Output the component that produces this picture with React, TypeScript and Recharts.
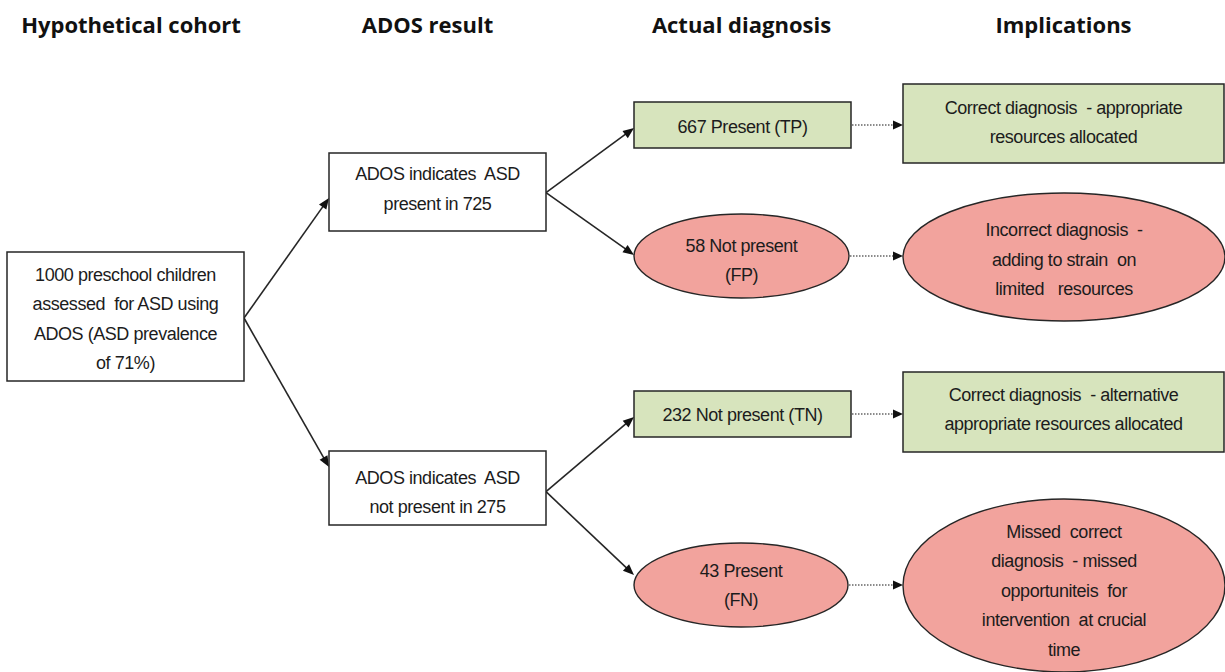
import React from 'react';
import { ScatterChart, Scatter, XAxis, YAxis, ReferenceLine } from 'recharts';

// ---------------- data ----------------
const columnHeaders = ['Hypothetical cohort', 'ADOS result', 'Actual diagnosis', 'Implications'];
const cohortSize = 1000;
const prevalencePct = 71;
const adosCounts = [725, 275]; // ADOS indicates ASD present / not present
const diagnosisCounts = [667, 58, 232, 43]; // TP, FP, TN, FN
const diagnosisCodes = ['TP', 'FP', 'TN', 'FN'];
const diagnosisStatus = ['Present', 'Not present', 'Not present', 'Present'];
const diagnosisCorrect = [true, false, true, false];
const implicationTexts = [
  ['Correct diagnosis  - appropriate', 'resources allocated'],
  ['Incorrect diagnosis  -', 'adding to strain  on', 'limited   resources'],
  ['Correct diagnosis  - alternative', 'appropriate resources allocated'],
  ['Missed  correct', 'diagnosis  - missed', 'opportuniteis  for', 'intervention  at crucial', 'time'],
];
const solidEdges = [
  ['root', 'pos'],
  ['root', 'neg'],
  ['pos', 'tp'],
  ['pos', 'fp'],
  ['neg', 'tn'],
  ['neg', 'fn'],
];
const dottedEdges = [
  ['tp', 'i1'],
  ['fp', 'i2'],
  ['tn', 'i3'],
  ['fn', 'i4'],
];

// ---------------- nodes built from data ----------------
type Node = { id: string; col: number; lines: string[]; kind: 'plain' | 'good' | 'bad' };
const diagIds = ['tp', 'fp', 'tn', 'fn'];
const nodes: Node[] = [
  {
    id: 'root',
    col: 0,
    kind: 'plain',
    lines: [
      `${cohortSize} preschool children`,
      'assessed  for ASD using',
      'ADOS (ASD prevalence',
      `of ${prevalencePct}%)`,
    ],
  },
  { id: 'pos', col: 1, kind: 'plain', lines: ['ADOS indicates  ASD', `present in ${adosCounts[0]}`] },
  { id: 'neg', col: 1, kind: 'plain', lines: ['ADOS indicates  ASD', `not present in ${adosCounts[1]}`] },
  ...diagIds.map((id, i) => ({
    id,
    col: 2,
    kind: (diagnosisCorrect[i] ? 'good' : 'bad') as 'good' | 'bad',
    lines: diagnosisCorrect[i]
      ? [`${diagnosisCounts[i]} ${diagnosisStatus[i]} (${diagnosisCodes[i]})`]
      : [`${diagnosisCounts[i]} ${diagnosisStatus[i]}`, `(${diagnosisCodes[i]})`],
  })),
  ...implicationTexts.map((lines, i) => ({
    id: `i${i + 1}`,
    col: 3,
    kind: (diagnosisCorrect[i] ? 'good' : 'bad') as 'good' | 'bad',
    lines,
  })),
];

// ---------------- layout (positions / sizes / styles) ----------------
const W = 1225;
const H = 672;
const colX = [125.5, 437.5, 742.5, 1063.5];
const headerX = [131, 427.5, 741.5, 1063.5];
const headerY = 24;
const box: Record<string, { cy: number; w: number; h: number; dy: number; dx?: number }> = {
  root: { cy: 316.5, w: 237, h: 129, dy: 2.5 },
  pos: { cy: 192, w: 217, h: 78, dy: -3 },
  neg: { cy: 488, w: 217, h: 74, dy: 4.5 },
  tp: { cy: 125, w: 217, h: 46, dy: 2 },
  fp: { cy: 256, w: 215, h: 84, dy: 4.5, dx: -1 },
  tn: { cy: 414, w: 217, h: 46, dy: 1 },
  fn: { cy: 585, w: 214, h: 84, dy: 0.5, dx: -1.5 },
  i1: { cy: 123.5, w: 321, h: 79, dy: -1 },
  i2: { cy: 257, w: 322, h: 128, dy: 2.5, dx: 0.5 },
  i3: { cy: 412, w: 321, h: 80, dy: -2.5 },
  i4: { cy: 585.5, w: 322, h: 173, dy: 5, dx: 0.5 },
};
// anchor offsets (source dy, target dy) for solid arrows
const solidAnchors = [
  [1.5, 6],
  [1.5, -21],
  [0.7, 3],
  [0.7, -1],
  [3.7, 3],
  [3.7, -10],
];
const lineHeight = 29.5;
const FILL_GOOD = '#d7e4bd';
const FILL_BAD = '#f2a39d';
const STROKE = '#262626';
const TEXT = '#1c1c1c';
const FONT = '"Liberation Sans", Arial, sans-serif';

const nodeData = nodes.map((n) => ({
  ...n,
  x: colX[n.col] + (box[n.id].dx || 0),
  y: box[n.id].cy,
}));
const headerData = columnHeaders.map((label, i) => ({ label, x: headerX[i], y: headerY }));
const nodeById: Record<string, any> = {};
nodeData.forEach((n) => (nodeById[n.id] = n));

const NodeShape = (props: any) => {
  const { cx, cy, payload } = props;
  const g = box[payload.id];
  const n = payload.lines.length;
  const fill = payload.kind === 'good' ? FILL_GOOD : payload.kind === 'bad' ? FILL_BAD : '#ffffff';
  const shape =
    payload.kind === 'bad' ? (
      <ellipse cx={cx} cy={cy} rx={g.w / 2} ry={g.h / 2} fill={fill} stroke={STROKE} strokeWidth={1.4} />
    ) : (
      <rect x={cx - g.w / 2} y={cy - g.h / 2} width={g.w} height={g.h} fill={fill} stroke={STROKE} strokeWidth={1.5} />
    );
  return (
    <g>
      {shape}
      {payload.lines.map((t: string, i: number) => (
        <text
          key={i}
          x={cx}
          y={cy + g.dy + (i - (n - 1) / 2) * lineHeight}
          textAnchor="middle"
          dominantBaseline="central"
          fontFamily={FONT}
          fontSize={18}
          letterSpacing={-0.45}
          fill={TEXT}
          style={{ whiteSpace: 'pre' }}
        >
          {t}
        </text>
      ))}
    </g>
  );
};

const HeaderShape = (props: any) => {
  const { cx, cy, payload } = props;
  return (
    <text
      x={cx}
      y={cy}
      textAnchor="middle"
      dominantBaseline="central"
      fontFamily='"Open Sans", sans-serif'
      fontWeight={700}
      fontSize={22}
      fill="#111"
    >
      {payload.label}
    </text>
  );
};

const makeArrow = (dotted: boolean) => (p: any) => {
  const { x1, y1, x2, y2 } = p;
  const dx = x2 - x1;
  const dy = y2 - y1;
  const len = Math.sqrt(dx * dx + dy * dy) || 1;
  const ux = dx / len;
  const uy = dy / len;
  const hl = dotted ? 10 : 11;
  const hw = 4.5;
  const bx = x2 - ux * hl;
  const by = y2 - uy * hl;
  const px = -uy;
  const py = ux;
  return (
    <g>
      <line
        x1={x1}
        y1={y1}
        x2={bx + ux * 1}
        y2={by + uy * 1}
        stroke={dotted ? '#666' : STROKE}
        strokeWidth={dotted ? 1.4 : 1.6}
        strokeDasharray={dotted ? '1.5 1.5' : undefined}
      />
      <polygon
        points={`${x2},${y2} ${bx + px * hw},${by + py * hw} ${bx - px * hw},${by - py * hw}`}
        fill="#111"
      />
    </g>
  );
};
const SolidArrow = makeArrow(false);
const DottedArrow = makeArrow(true);

export default function App() {
  return (
    <div style={{ position: 'absolute', left: 0, top: 0, width: W, height: H, background: '#fff' }}>
      <ScatterChart width={W} height={H} margin={{ top: 0, right: 0, bottom: 0, left: 0 }}>
        <XAxis type="number" dataKey="x" domain={[0, W]} allowDataOverflow hide />
        <YAxis type="number" dataKey="y" domain={[0, H]} allowDataOverflow reversed hide />
        {solidEdges.map(([s, t], i) => {
          const a = nodeById[s];
          const b = nodeById[t];
          return (
            <ReferenceLine
              key={`e${i}`}
              ifOverflow="visible"
              segment={[
                { x: a.x + box[s].w / 2, y: a.y + solidAnchors[i][0] },
                { x: b.x - box[t].w / 2, y: b.y + solidAnchors[i][1] },
              ]}
              shape={SolidArrow}
            />
          );
        })}
        {dottedEdges.map(([s, t], i) => {
          const a = nodeById[s];
          const b = nodeById[t];
          return (
            <ReferenceLine
              key={`d${i}`}
              ifOverflow="visible"
              segment={[
                { x: a.x + box[s].w / 2 + 1, y: a.y },
                { x: b.x - box[t].w / 2, y: a.y },
              ]}
              shape={DottedArrow}
            />
          );
        })}
        <Scatter data={nodeData} shape={NodeShape} isAnimationActive={false} />
        <Scatter data={headerData} shape={HeaderShape} isAnimationActive={false} />
      </ScatterChart>
    </div>
  );
}
